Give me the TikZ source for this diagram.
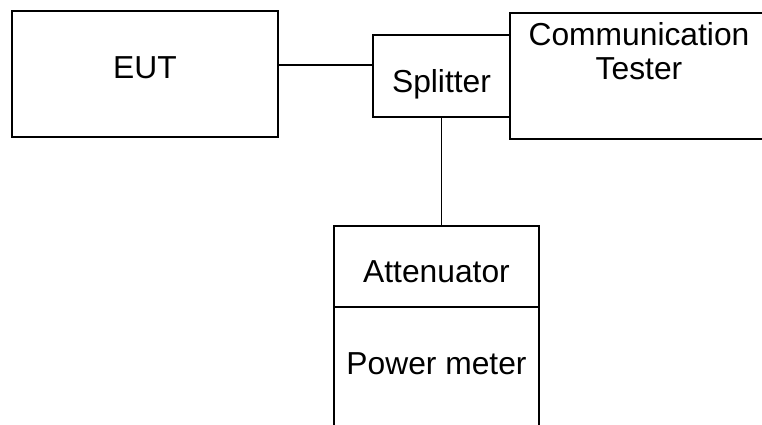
\documentclass[tikz,border=0pt]{standalone}
\usepackage{fontspec}
\setmainfont{Liberation Sans}
\tikzset{
  blk/.style={draw, line width=1.1pt, inner sep=0pt},
  lbl/.style={text height=0pt, text depth=0pt},
  every label/.style={inner sep=0pt}
}
\begin{document}
\begin{tikzpicture}[line width=1.1pt, font=\fontsize{22.6}{24.8}\selectfont]
      \clip (0,0) rectangle (19.05,10.625);
      \node[blk, minimum width=6.65cm, minimum height=3.15cm,
        label={[lbl, yshift=-0.125cm]center:EUT}] (eut) at (3.625,8.775) {};
      \node[blk, minimum width=3.425cm, minimum height=2.05cm,
        label={[lbl, yshift=-0.425cm]center:Splitter}] (spl) at (11.0375,8.725) {};
      \node[blk, fill=white, minimum width=6.45cm, minimum height=3.15cm,
        label={[align=center, yshift=0.62cm]center:Communication\\Tester}] (tst) at (15.975,8.725) {};
      \node[blk, minimum width=5.125cm, minimum height=2.025cm,
        label={[lbl, yshift=-0.4125cm]center:Attenuator}] (att) at (10.9125,3.9625) {};
      \node[blk, minimum width=5.125cm, minimum height=4cm,
        label={[lbl, yshift=0.3cm]center:Power meter}] (pwr) at (10.9125,0.95) {};
      \begin{scope}[-]
        \draw (eut.east) ++(0,0.225) coordinate (e1) -- (e1 -| spl.west);
        \draw (spl.south) -- (spl.south |- att.north);
      \end{scope}
    \end{tikzpicture}
\end{document}
